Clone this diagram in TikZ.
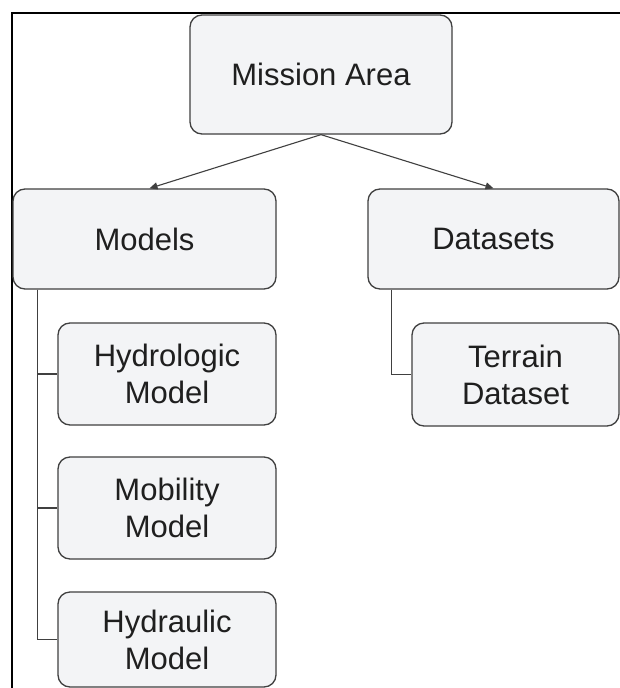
\documentclass[tikz,border=0pt]{standalone}
\usepackage{fontspec}
\setmainfont{Liberation Sans}
\usetikzlibrary{arrows.meta}
\definecolor{boxfill}{HTML}{F3F4F6}
\definecolor{boxline}{HTML}{404040}
\begin{document}
\begin{tikzpicture}[x=1pt,y=-1pt,
  box/.style={draw=boxline,fill=boxfill,line width=1.3pt,rounded corners=12pt,
    align=center,inner sep=0pt,font=\fontsize{31}{37}\selectfont,text=black!88},
  conn/.style={draw=black!75,line width=1.1pt},
  arr/.style={conn,-{Triangle[length=8pt,width=7pt]}}]
\useasboundingbox (0,0) rectangle (620,688);
\clip (0,0) rectangle (620,688);
\fill[white] (0,0) rectangle (620,688);
% frame
\draw[black,line width=1.5pt] (12,688) -- (12,13) -- (621,13);
% nodes
\node[box,minimum width=262pt,minimum height=119pt] (mission) at (321,74.5) {Mission Area};
\node[box,minimum width=263pt,minimum height=100pt] (models) at (144.5,239) {Models};
\node[box,minimum width=251pt,minimum height=100pt] (datasets) at (493.5,239) {Datasets};
\node[box,minimum width=218pt,minimum height=102pt] (hydrologic) at (167,374) {Hydrologic\\Model};
\node[box,minimum width=218pt,minimum height=102pt] (mobility) at (167,508) {Mobility\\Model};
\node[box,minimum width=218pt,minimum height=95pt] (hydraulic) at (167,639.5) {Hydraulic\\Model};
\node[box,minimum width=207pt,minimum height=103pt] (terrain) at (515.5,374.5) {Terrain\\Dataset};
% arrows
\draw[arr] (mission.south) -- ([xshift=5pt]models.north);
\draw[arr] (mission.south) -- (datasets.north);
% tree lines
\draw[conn] ([xshift=25pt]models.south west) |- (hydrologic.west);
\draw[conn] ([xshift=25pt]models.south west) |- (mobility.west);
\draw[conn] ([xshift=25pt]models.south west) |- (hydraulic.west);
\draw[conn] ([xshift=24pt]datasets.south west) |- (terrain.west);
\end{tikzpicture}
\end{document}
